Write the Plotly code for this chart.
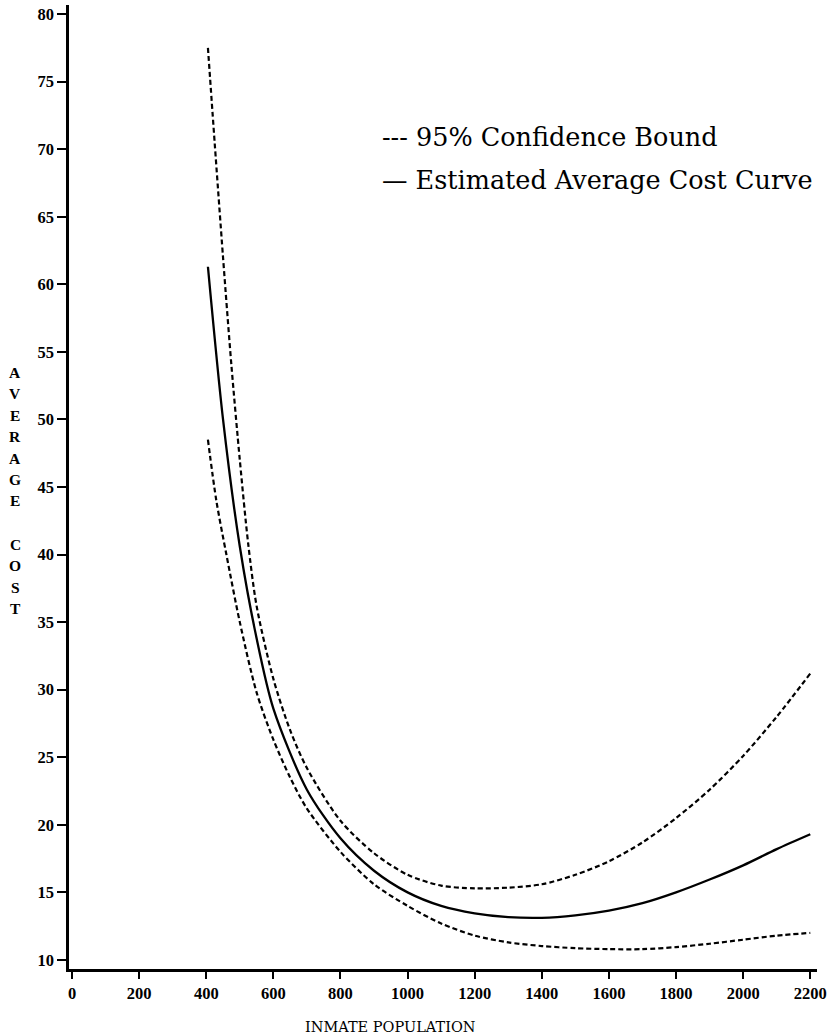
import plotly.graph_objects as go

# Inmate population (x) and average cost values
x_est = [405, 450, 500, 550, 600, 700, 800, 900, 1000, 1100, 1200, 1300, 1400,
         1500, 1600, 1700, 1800, 1900, 2000, 2100, 2200]
y_est = [61.3, 50.0, 40.6, 33.8, 28.6, 22.6, 19.0, 16.6, 15.0, 14.0, 13.45, 13.17, 13.12,
         13.3, 13.65, 14.2, 15.0, 15.95, 17.0, 18.2, 19.3]

x_up = [405, 425, 450, 475, 500, 525, 550, 600, 650, 700, 800, 900, 1000, 1100, 1200,
        1300, 1400, 1500, 1600, 1700, 1800, 1900, 2000, 2100, 2200]
y_up = [77.5, 70.5, 62.0, 54.0, 47.0, 40.8, 36.2, 30.8, 27.0, 24.2, 20.3, 17.9, 16.3, 15.5,
        15.3, 15.35, 15.6, 16.3, 17.3, 18.7, 20.5, 22.6, 25.1, 28.0, 31.2]

x_lo = [405, 430, 460, 500, 550, 600, 650, 700, 800, 900, 1000, 1100, 1200, 1300, 1400,
        1500, 1600, 1700, 1800, 1900, 2000, 2100, 2200]
y_lo = [48.5, 44.0, 40.0, 35.0, 29.8, 26.3, 23.5, 21.2, 18.0, 15.6, 14.0, 12.7, 11.8, 11.3,
        11.03, 10.87, 10.8, 10.8, 10.95, 11.2, 11.5, 11.8, 12.0]

x_ticks = list(range(0, 2201, 200))
y_ticks = list(range(10, 81, 5))

legend_texts = ["--- 95% Confidence Bound", "\u2014 Estimated Average Cost Curve"]
x_title = "INMATE POPULATION"
y_title_letters = ["A", "V", "E", "R", "A", "G", "E", "", "C", "O", "S", "T"]

SERIF = "DejaVu Serif"
TICKSERIF = "Liberation Serif"

# plot area in page pixels
PL, PR, PT, PB = 69, 817, 5, 969
W, H = 827, 1036


def px_to_paper(px, py):
    return (px - PL) / (PR - PL), 1 - (py - PT) / (PB - PT)


fig = go.Figure()
dash_line = dict(color="black", width=2.2, dash="5px,3px", shape="spline", smoothing=0.8)
fig.add_trace(go.Scatter(x=x_up, y=y_up, mode="lines", line=dash_line, showlegend=False))
fig.add_trace(go.Scatter(x=x_lo, y=y_lo, mode="lines", line=dash_line, showlegend=False))
fig.add_trace(go.Scatter(x=x_est, y=y_est, mode="lines",
                         line=dict(color="black", width=2.3, shape="spline", smoothing=0.8),
                         showlegend=False))

axis_common = dict(showline=True, linecolor="black", linewidth=2.5, ticks="outside",
                   tickcolor="black", tickwidth=2, showgrid=False, zeroline=False,
                   ticklabeloverflow="allow", automargin=False,
                   tickfont=dict(family=TICKSERIF, size=16.5, color="black", weight="bold"))

fig.update_xaxes(range=[-9, 2220], tickvals=x_ticks, ticktext=[str(v) for v in x_ticks],
                 ticklen=7, **axis_common)
fig.update_yaxes(range=[9.33, 80.67], tickvals=y_ticks, ticktext=[str(v) for v in y_ticks],
                 ticklen=9, **axis_common)

for i, t in enumerate(legend_texts):
    fig.add_annotation(x=918, y=[70.92, 67.73][i], xref="x", yref="y", text=t,
                       showarrow=False, xanchor="left", yanchor="middle",
                       font=dict(family=SERIF, size=25.5, color="black"))

tx, ty = px_to_paper(390.5, 1027)
fig.add_annotation(x=tx, y=ty, xref="paper", yref="paper", text=x_title,
                   showarrow=False, xanchor="center", yanchor="middle",
                   font=dict(family=SERIF, size=14.5, color="black"))

letter_y0 = 372
for i, L in enumerate(y_title_letters):
    if not L:
        continue
    lx, ly = px_to_paper(15, letter_y0 + i * 21.5)
    fig.add_annotation(x=lx, y=ly, xref="paper", yref="paper",
                       text=L, showarrow=False, xanchor="center", yanchor="middle",
                       font=dict(family=TICKSERIF, size=15.5, color="black", weight="bold"))

fig.update_layout(width=W, height=H, autosize=False,
                  margin=dict(l=PL, r=W - PR, t=PT, b=H - PB, autoexpand=False),
                  paper_bgcolor="white", plot_bgcolor="white")

fig.write_html("out.html", config={"displayModeBar": False, "responsive": False},
               post_script="document.body.style.margin='0';document.body.style.overflow='hidden';")
